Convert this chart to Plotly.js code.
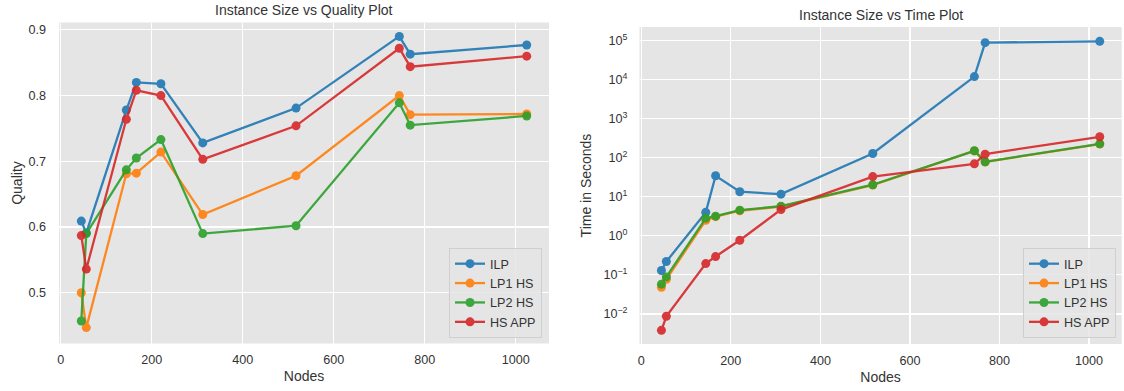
<!DOCTYPE html>
<html>
<head>
<meta charset="utf-8">
<script src="https://cdn.plot.ly/plotly-3.0.1.min.js"></script>
<style>
  html, body { margin: 0; padding: 0; background: #ffffff; }
  #chart { width: 1124px; height: 391px; }
</style>
</head>
<body>
<div id="chart"></div>
<script>
// Instance sizes (number of nodes) for each benchmark instance
const nodes = [45, 56, 144, 166, 220, 312, 517, 744, 768, 1024];

const seriesNames = ['ILP', 'LP1 HS', 'LP2 HS', 'HS APP'];
const seriesColors = ['#1f77b4', '#ff7f0e', '#2ca02c', '#d62728'];

// Solution quality per method
const qualityILP   = [0.609, 0.591, 0.778, 0.820, 0.818, 0.728, 0.781, 0.890, 0.863, 0.877];
const qualityLP1HS = [0.500, 0.447, 0.681, 0.682, 0.714, 0.619, 0.678, 0.800, 0.771, 0.772];
const qualityLP2HS = [0.457, 0.590, 0.687, 0.705, 0.733, 0.590, 0.602, 0.789, 0.755, 0.769];
const qualityHSAPP = [0.587, 0.536, 0.764, 0.808, 0.800, 0.703, 0.754, 0.872, 0.844, 0.860];

// Running time in seconds per method
const timeILP   = [0.13, 0.22, 4.0, 34.6, 13.5, 11.7, 129, 12000, 89000, 96000];
const timeLP1HS = [0.048, 0.077, 2.5, 3.1, 4.4, 5.6, 20, 150, 78, 225];
const timeLP2HS = [0.058, 0.089, 2.84, 3.19, 4.55, 5.75, 20.4, 151, 79, 228];
const timeHSAPP = [0.0038, 0.0087, 0.195, 0.295, 0.77, 4.7, 33, 70, 124, 345];

// Axis ticks
const nodeTicks = [0, 200, 400, 600, 800, 1000];
const qualityTicks = [0.5, 0.6, 0.7, 0.8, 0.9];
const timeExponents = [-2, -1, 0, 1, 2, 3, 4, 5];

const qualitySeries = [qualityILP, qualityLP1HS, qualityLP2HS, qualityHSAPP];
const timeSeries = [timeILP, timeLP1HS, timeLP2HS, timeHSAPP];

const timeTickVals = timeExponents.map(e => Math.pow(10, e));
const timeTickText = timeExponents.map(e => '10<sup>' + (e < 0 ? '\u2212' + (-e) : e) + '</sup>');

const W = 1124, H = 391;
const FONT = '"Liberation Sans", Arial, "DejaVu Sans", sans-serif';
const TEXT = '#333333';

function makeTrace(name, color, x, y, xa, ya, legend) {
  return {
    type: 'scatter', mode: 'lines+markers', name: name,
    x: x, y: y, xaxis: xa, yaxis: ya, legend: legend,
    line: { color: color, width: 2.3 },
    marker: { color: color, size: 9 },
    opacity: 0.9,
    hoverinfo: 'x+y+name'
  };
}

const traces = [];
seriesNames.forEach((n, i) => traces.push(makeTrace(n, seriesColors[i], nodes, qualitySeries[i], 'x', 'y', 'legend')));
seriesNames.forEach((n, i) => traces.push(makeTrace(n, seriesColors[i], nodes, timeSeries[i], 'x2', 'y2', 'legend2')));

const commonAxis = {
  showgrid: true, gridcolor: '#ffffff', gridwidth: 1.2,
  zeroline: false, showline: false, ticks: '',
  tickfont: { family: FONT, size: 12.6, color: TEXT }
};

const legendCommon = {
  bgcolor: 'rgba(229,229,229,0.85)', bordercolor: '#cfcfcf', borderwidth: 1,
  font: { family: FONT, size: 12.6, color: TEXT },
  traceorder: 'normal',
  xref: 'paper', yref: 'paper', xanchor: 'right', yanchor: 'bottom',
  itemclick: false, itemdoubleclick: false
};

const layout = {
  width: W, height: H,
  margin: { l: 0, r: 0, t: 0, b: 0 },
  paper_bgcolor: '#ffffff',
  plot_bgcolor: '#e5e5e5',
  font: { family: FONT, color: TEXT },
  showlegend: true,
  xaxis: Object.assign({}, commonAxis, {
    domain: [59 / W, 549 / W], range: [-4, 1073], anchor: 'y',
    tickvals: nodeTicks, ticklabelstandoff: 7,
    title: { text: 'Nodes', font: { family: FONT, size: 14, color: TEXT }, standoff: 5 }
  }),
  yaxis: Object.assign({}, commonAxis, {
    domain: [47.5 / H, 368.5 / H], range: [0.4228, 0.9112], anchor: 'x',
    tickvals: qualityTicks, tickformat: '.1f', ticklabelstandoff: 12,
    title: { text: 'Quality', font: { family: FONT, size: 14, color: TEXT }, standoff: 2 }
  }),
  xaxis2: Object.assign({}, commonAxis, {
    domain: [639.5 / W, 1121.7 / W], range: [-4, 1073], anchor: 'y2',
    tickvals: nodeTicks, ticklabelstandoff: 7,
    title: { text: 'Nodes', font: { family: FONT, size: 14, color: TEXT }, standoff: 5 }
  }),
  yaxis2: Object.assign({}, commonAxis, {
    type: 'log', domain: [47 / H, 364 / H], range: [-2.77, 5.35], anchor: 'x2',
    tickvals: timeTickVals, ticktext: timeTickText, ticklabelstandoff: 11,
    title: { text: 'Time in Seconds', font: { family: FONT, size: 14, color: TEXT }, standoff: 8 }
  }),
  legend: Object.assign({}, legendCommon, { x: 542 / W, y: (H - 338) / H }),
  legend2: Object.assign({}, legendCommon, { x: 1116 / W, y: (H - 338) / H }),
  annotations: [
    { text: 'Instance Size vs Quality Plot', xref: 'paper', yref: 'paper',
      x: 304 / W, y: 1 - 10 / H, xanchor: 'center', yanchor: 'middle', showarrow: false,
      font: { family: FONT, size: 14, color: TEXT } },
    { text: 'Instance Size vs Time Plot', xref: 'paper', yref: 'paper',
      x: 880.6 / W, y: 1 - 15 / H, xanchor: 'center', yanchor: 'middle', showarrow: false,
      font: { family: FONT, size: 14, color: TEXT } }
  ]
};

Plotly.newPlot('chart', traces, layout, { displayModeBar: false, staticPlot: true });
</script>
</body>
</html>
